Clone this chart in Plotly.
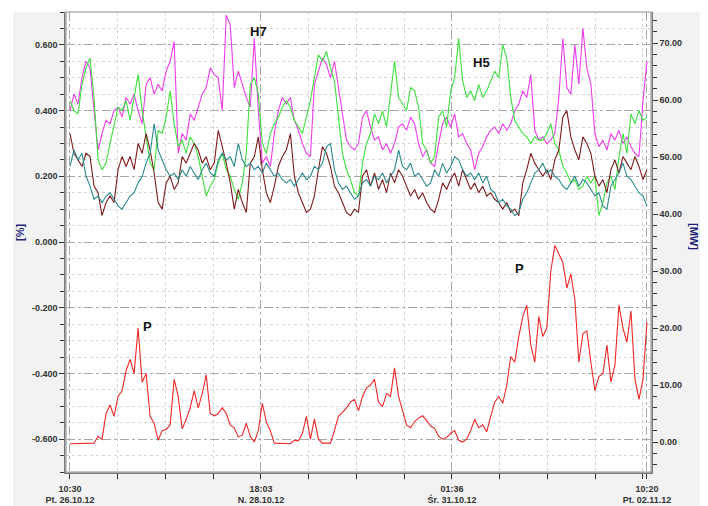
import pandas as pd
import plotly.graph_objects as go

# ---------------- data ----------------
start_time = "2012-10-26 10:30"
end_time = "2012-11-02 10:20"
n_samples = 145

tick_times = ["2012-10-26 10:30", "2012-10-28 18:03", "2012-10-31 01:36", "2012-11-02 10:20"]
tick_labels = ["10:30<br>Pt. 26.10.12", "18:03<br>N. 28.10.12",
               "01:36<br>Śr. 31.10.12", "10:20<br>Pt. 02.11.12"]

pct_ticks = [-0.6, -0.4, -0.2, 0.0, 0.2, 0.4, 0.6]
pct_labels = ["-0.600", "-0.400", "-0.200", "0.000", "0.200", "0.400", "0.600"]
mw_ticks = [0, 10, 20, 30, 40, 50, 60, 70]
mw_labels = ["0.00", "10.00", "20.00", "30.00", "40.00", "50.00", "60.00", "70.00"]

h_magenta = [0.40, 0.45, 0.42, 0.50, 0.55, 0.53, 0.40, 0.28, 0.33, 0.37, 0.36, 0.40, 0.41, 0.38, 0.44, 0.42,
             0.45, 0.40, 0.36, 0.48, 0.50, 0.45, 0.48, 0.46, 0.52, 0.55, 0.61, 0.27, 0.33, 0.31, 0.39, 0.37,
             0.41, 0.45, 0.47, 0.53, 0.51, 0.50, 0.40, 0.69, 0.66, 0.47, 0.52, 0.48, 0.44, 0.41, 0.62, 0.40,
             0.24, 0.26, 0.23, 0.33, 0.40, 0.44, 0.42, 0.44, 0.37, 0.34, 0.30, 0.27, 0.26, 0.48, 0.52, 0.56,
             0.54, 0.50, 0.55, 0.47, 0.40, 0.31, 0.29, 0.28, 0.30, 0.38, 0.40, 0.35, 0.31, 0.32, 0.28, 0.30,
             0.27, 0.30, 0.35, 0.36, 0.34, 0.38, 0.36, 0.30, 0.26, 0.28, 0.24, 0.23, 0.30, 0.36, 0.38, 0.35,
             0.39, 0.32, 0.33, 0.30, 0.28, 0.22, 0.27, 0.29, 0.32, 0.34, 0.35, 0.33, 0.36, 0.34, 0.36, 0.40,
             0.42, 0.46, 0.44, 0.51, 0.34, 0.31, 0.32, 0.30, 0.31, 0.33, 0.44, 0.62, 0.47, 0.45, 0.60, 0.48,
             0.65, 0.53, 0.48, 0.33, 0.29, 0.31, 0.28, 0.33, 0.31, 0.34, 0.30, 0.32, 0.29, 0.27, 0.26, 0.43,
             0.55]

h_green = [0.43, 0.40, 0.39, 0.48, 0.53, 0.56, 0.44, 0.25, 0.22, 0.24, 0.30, 0.36, 0.41, 0.40, 0.43, 0.37,
           0.44, 0.51, 0.40, 0.32, 0.24, 0.22, 0.34, 0.33, 0.38, 0.46, 0.36, 0.29, 0.31, 0.27, 0.32, 0.30,
           0.26, 0.20, 0.14, 0.17, 0.19, 0.24, 0.27, 0.22, 0.20, 0.16, 0.13, 0.18, 0.27, 0.48, 0.50, 0.45,
           0.30, 0.27, 0.33, 0.36, 0.38, 0.41, 0.43, 0.41, 0.37, 0.35, 0.33, 0.38, 0.43, 0.50, 0.57, 0.55,
           0.58, 0.53, 0.49, 0.38, 0.27, 0.22, 0.19, 0.15, 0.14, 0.24, 0.30, 0.33, 0.39, 0.36, 0.40, 0.35,
           0.45, 0.55, 0.44, 0.42, 0.40, 0.47, 0.46, 0.41, 0.30, 0.28, 0.24, 0.26, 0.38, 0.40, 0.35, 0.46,
           0.50, 0.62, 0.49, 0.44, 0.46, 0.43, 0.48, 0.44, 0.46, 0.49, 0.52, 0.50, 0.60, 0.56, 0.44, 0.37,
           0.35, 0.33, 0.32, 0.30, 0.32, 0.31, 0.31, 0.33, 0.36, 0.30, 0.28, 0.23, 0.21, 0.18, 0.19, 0.16,
           0.17, 0.20, 0.18, 0.20, 0.08, 0.12, 0.18, 0.20, 0.16, 0.26, 0.33, 0.27, 0.39, 0.36, 0.40, 0.37,
           0.38]

h_brown = [0.33, 0.27, 0.25, 0.23, 0.27, 0.26, 0.17, 0.15, 0.08, 0.12, 0.14, 0.12, 0.22, 0.26, 0.23, 0.26,
           0.22, 0.30, 0.27, 0.33, 0.28, 0.21, 0.12, 0.10, 0.18, 0.20, 0.16, 0.18, 0.26, 0.24, 0.27, 0.30,
           0.28, 0.24, 0.26, 0.22, 0.24, 0.34, 0.29, 0.24, 0.18, 0.10, 0.16, 0.12, 0.09, 0.24, 0.26, 0.32,
           0.22, 0.15, 0.12, 0.17, 0.23, 0.26, 0.28, 0.33, 0.20, 0.15, 0.12, 0.09, 0.10, 0.14, 0.22, 0.29,
           0.27, 0.23, 0.17, 0.15, 0.12, 0.09, 0.08, 0.10, 0.09, 0.20, 0.22, 0.17, 0.21, 0.16, 0.19, 0.15,
           0.21, 0.18, 0.22, 0.20, 0.17, 0.14, 0.16, 0.13, 0.15, 0.12, 0.10, 0.09, 0.13, 0.18, 0.16, 0.19,
           0.21, 0.17, 0.22, 0.19, 0.16, 0.18, 0.15, 0.17, 0.14, 0.15, 0.13, 0.12, 0.10, 0.12, 0.09, 0.10,
           0.08, 0.18, 0.22, 0.27, 0.24, 0.22, 0.20, 0.22, 0.19, 0.25, 0.28, 0.38, 0.40, 0.32, 0.28, 0.25,
           0.32, 0.30, 0.27, 0.20, 0.17, 0.19, 0.15, 0.22, 0.25, 0.21, 0.26, 0.24, 0.22, 0.26, 0.23, 0.19,
           0.22]

h_teal = [0.23, 0.28, 0.25, 0.27, 0.20, 0.17, 0.13, 0.14, 0.12, 0.14, 0.15, 0.13, 0.11, 0.10, 0.12, 0.14,
          0.15, 0.18, 0.20, 0.24, 0.27, 0.36, 0.28, 0.25, 0.22, 0.20, 0.21, 0.19, 0.22, 0.20, 0.23, 0.21,
          0.19, 0.22, 0.24, 0.21, 0.20, 0.25, 0.27, 0.25, 0.26, 0.23, 0.30, 0.25, 0.23, 0.24, 0.22, 0.23,
          0.21, 0.24, 0.22, 0.20, 0.21, 0.19, 0.18, 0.19, 0.17, 0.19, 0.21, 0.19, 0.20, 0.23, 0.22, 0.24,
          0.29, 0.30, 0.22, 0.18, 0.16, 0.17, 0.15, 0.13, 0.14, 0.18, 0.19, 0.17, 0.20, 0.19, 0.21, 0.18,
          0.20, 0.22, 0.28, 0.23, 0.22, 0.24, 0.20, 0.21, 0.19, 0.17, 0.18, 0.22, 0.20, 0.24, 0.21, 0.23,
          0.26, 0.25, 0.22, 0.20, 0.21, 0.19, 0.21, 0.18, 0.20, 0.16, 0.15, 0.12, 0.13, 0.11, 0.10, 0.08,
          0.09, 0.13, 0.15, 0.18, 0.21, 0.22, 0.24, 0.21, 0.22, 0.20, 0.19, 0.17, 0.16, 0.18, 0.20, 0.17,
          0.19, 0.18, 0.16, 0.14, 0.15, 0.11, 0.10, 0.17, 0.19, 0.21, 0.24, 0.20, 0.19, 0.17, 0.15, 0.14,
          0.11]

p_mw = [-0.3, -0.3, -0.3, -0.3, -0.3, -0.3, -0.2, 1.0, 0.5, 5.0, 6.5, 4.5, 8.0, 9.0, 12.5, 14.5,
        12.0, 20.0, 10.5, 12.0, 4.5, 3.3, 0.3, 2.0, 2.2, 3.0, 11.0, 8.0, 2.3, 4.0, 6.0, 9.0,
        6.0, 8.5, 11.8, 5.0, 4.6, 5.0, 6.0, 5.0, 3.0, 2.5, 0.9, 1.2, 3.3, 1.0, 0.0, 2.0,
        6.8, 3.5, 2.0, -0.2, -0.2, -0.3, -0.2, -0.3, 0.3, 0.2, 1.5, 4.5, 0.5, 4.0, 0.5, -0.2,
        -0.2, -0.2, 2.0, 4.5, 5.2, 6.0, 7.0, 7.5, 5.5, 8.0, 9.5, 10.0, 11.0, 7.0, 6.2, 8.5,
        8.0, 13.0, 8.0, 5.5, 3.0, 2.5, 3.6, 4.2, 4.6, 3.8, 2.8, 2.4, 1.0, 0.5, 0.8, 1.5,
        2.0, 0.3, 0.0, 0.5, 2.0, 4.0, 2.5, 3.0, 1.8, 4.5, 7.0, 8.0, 6.8, 10.0, 15.0, 14.0,
        18.5, 22.0, 24.0, 17.0, 14.0, 22.0, 18.5, 20.0, 30.0, 34.5, 33.0, 31.5, 27.0, 29.5, 25.0, 14.0,
        19.0, 19.5, 14.0, 9.0, 11.5, 12.0, 17.0, 10.5, 13.5, 24.0, 20.0, 17.5, 23.0, 11.0, 7.5, 11.0,
        21.0]

# ---------------- figure ----------------
times = pd.date_range(start_time, end_time, periods=n_samples)

W, H = 708, 506
L, R, T, B = 66, 651, 12, 472


def px_x(p):
    return (p - L) / (R - L)


def px_y(p):
    return (B - p) / (B - T)


fig = go.Figure()
fig.add_trace(go.Scatter(x=times, y=p_mw, mode="lines", yaxis="y2",
                         line=dict(color="#f02828", width=1.1), name="P"))
fig.add_trace(go.Scatter(x=times, y=h_magenta, mode="lines",
                         line=dict(color="#ec3cec", width=1.1), name="H7"))
fig.add_trace(go.Scatter(x=times, y=h_green, mode="lines",
                         line=dict(color="#3de03d", width=1.1), name="H5"))
fig.add_trace(go.Scatter(x=times, y=h_brown, mode="lines",
                         line=dict(color="#7d1c1c", width=1.1), name="H3"))
fig.add_trace(go.Scatter(x=times, y=h_teal, mode="lines",
                         line=dict(color="#2b8a8c", width=1.1), name="H9"))

tick_font = dict(family="Liberation Sans", size=9, color="#333333", weight="bold")

t0 = pd.Timestamp(start_time)
x_lo = t0 - pd.Timedelta(hours=1.16)
x_hi = t0 + pd.Timedelta(hours=169.0)

fig.update_layout(
    width=W, height=H,
    margin=dict(l=L, r=W - R, t=T, b=H - B, pad=0, autoexpand=False),
    paper_bgcolor="#f2f2f2",
    plot_bgcolor="white",
    showlegend=False,
    xaxis=dict(
        type="date", range=[x_lo, x_hi], automargin=False,
        tickmode="array", tickvals=tick_times, ticktext=tick_labels,
        ticks="outside", ticklen=5, tickcolor="#333333", tickwidth=1,
        tickfont=tick_font, ticklabelstandoff=2,
        showgrid=True, gridcolor="#a8a8a8", griddash="dashdot", gridwidth=1,
        showline=True, linecolor="#7a7a7a", linewidth=1.5,
        zeroline=False,
        minor=dict(dtick=13.8875 * 3600 * 1000, tick0=start_time, ticks="outside",
                   ticklen=5, tickcolor="#333333", showgrid=True,
                   gridcolor="#d4d4d4", griddash="dot"),
    ),
    yaxis=dict(
        range=[-0.70, 0.70], automargin=False,
        tickmode="array", tickvals=pct_ticks, ticktext=pct_labels,
        ticks="outside", ticklen=5, tickcolor="#333333",
        tickfont=tick_font,
        showgrid=True, gridcolor="#a8a8a8", griddash="dashdot",
        zeroline=False,
        showline=True, linecolor="#7a7a7a", linewidth=1.5,
        minor=dict(dtick=0.05, tick0=0, ticks="outside", ticklen=4, tickcolor="#333333",
                   showgrid=True, gridcolor="#d4d4d4", griddash="dot"),
    ),
    yaxis2=dict(
        overlaying="y", side="right", automargin=False,
        range=[-5.26, 75.44],
        tickmode="array", tickvals=mw_ticks, ticktext=mw_labels,
        ticks="outside", ticklen=5, tickcolor="#333333",
        tickfont=tick_font,
        showgrid=False, zeroline=False,
        showline=True, linecolor="#7a7a7a", linewidth=1.5,
        minor=dict(dtick=2, tick0=0, ticks="outside", ticklen=4, tickcolor="#333333"),
    ),
)

shapes = [
    # white margins around the grey panel
    dict(type="rect", xref="paper", yref="paper", x0=px_x(0), x1=px_x(13), y0=px_y(H), y1=px_y(0),
         fillcolor="white", line=dict(width=0), layer="below"),
    dict(type="rect", xref="paper", yref="paper", x0=px_x(700), x1=px_x(W), y0=px_y(H), y1=px_y(0),
         fillcolor="white", line=dict(width=0), layer="below"),
    dict(type="rect", xref="paper", yref="paper", x0=px_x(0), x1=px_x(W), y0=px_y(T), y1=px_y(0),
         fillcolor="white", line=dict(width=0), layer="below"),
    # plot frame
    dict(type="rect", xref="paper", yref="paper", x0=0, x1=1, y0=0, y1=1,
         line=dict(color="#b4b4b4", width=1.5), layer="above"),
]
fig.update_layout(shapes=shapes)

label_font = dict(family="Liberation Sans", size=13, color="#111111", weight="bold")
annotations = [
    dict(text="H7", x=px_x(258), y=px_y(32)),
    dict(text="H5", x=px_x(481), y=px_y(62)),
    dict(text="P", x=px_x(147), y=px_y(327)),
    dict(text="P", x=px_x(519), y=px_y(268)),
]
for a in annotations:
    a.update(xref="paper", yref="paper", showarrow=False, font=label_font,
             xanchor="center", yanchor="middle")

axis_title_font = dict(family="Liberation Sans", size=11, color="#1f1f78", weight="bold")
annotations += [
    dict(text="[%]", x=px_x(20), y=px_y(233), xref="paper", yref="paper", showarrow=False,
         textangle=-90, font=axis_title_font, xanchor="center", yanchor="middle"),
    dict(text="[MW]", x=px_x(694), y=px_y(236), xref="paper", yref="paper", showarrow=False,
         textangle=90, font=axis_title_font, xanchor="center", yanchor="middle"),
]
fig.update_layout(annotations=annotations)

fig.write_html("out.html")
